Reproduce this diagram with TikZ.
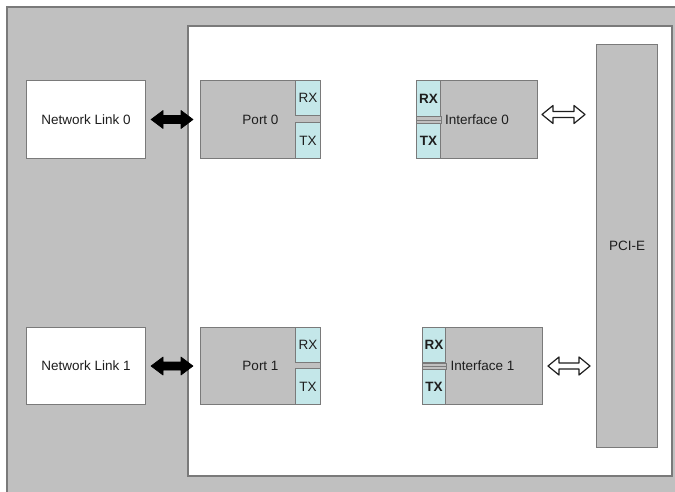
\documentclass[tikz,border=0pt]{standalone}
\usepackage{fontspec}
\setmainfont{Liberation Sans}
\usetikzlibrary{calc}
\definecolor{boxgray}{HTML}{C0C0C0}
\definecolor{edgegray}{HTML}{7A7A7A}
\definecolor{rxcyan}{HTML}{C4E7E9}
\definecolor{txtc}{HTML}{1E1E1E}
\newcommand{\dblarrow}[6]{%
  \draw[#1] let \p1=#2, \p2=#3 in
    (\x1,\y1) -- (\x1+#6,\y1+#5) -- (\x1+#6,\y1+#4) -- (\x2-#6,\y1+#4)
    -- (\x2-#6,\y1+#5) -- (\x2,\y1) -- (\x2-#6,\y1-#5) -- (\x2-#6,\y1-#4)
    -- (\x1+#6,\y1-#4) -- (\x1+#6,\y1-#5) -- cycle;}
\tikzset{
  plainbox/.style={draw=edgegray, line width=1pt, fill=white, anchor=north west, inner sep=0pt, text=txtc},
  graybox/.style={draw=edgegray, line width=1pt, fill=boxgray, inner sep=0pt, text=txtc},
  cyanbox/.style={draw=edgegray, line width=0.8pt, fill=rxcyan, inner sep=0pt, text=txtc},
  boldtext/.style={font=\fontsize{13.5pt}{16pt}\selectfont\bfseries},
  blackarrow/.style={fill=black, draw=black, line width=0.6pt, line join=round},
  hollowarrow/.style={fill=white, draw=txtc, line width=1.2pt, line join=round}
}
\begin{document}
\begin{tikzpicture}[x=1pt,y=-1pt, font=\fontsize{13.5pt}{16pt}\selectfont]
\useasboundingbox (0,0) rectangle (675,492);
% background frame
\fill[white] (0,0) rectangle (675,492);
\fill[boxgray] (7,7) rectangle (685,500);
\draw[edgegray, line width=1.5pt] (7,500) -- (7,7) -- (685,7);
\draw[edgegray, fill=white, line width=1.2pt] (188,26) rectangle (672,476);

% network links
\node[plainbox, minimum width=119pt, minimum height=78pt] (nl0) at (26,80) {Network Link 0};
\node[plainbox, minimum width=119pt, minimum height=77pt] (nl1) at (26,327) {Network Link 1};

% ports
\node[graybox, anchor=north west, minimum width=120pt, minimum height=78pt] (p0) at (200,80) {Port 0};
\node[cyanbox, anchor=north east, minimum width=25pt, minimum height=35pt] (p0rx) at (p0.north east) {RX};
\node[cyanbox, anchor=south east, minimum width=25pt, minimum height=36pt] (p0tx) at (p0.south east) {TX};

\node[graybox, anchor=north west, minimum width=120pt, minimum height=77pt] (p1) at (200,327) {Port 1};
\node[cyanbox, anchor=north east, minimum width=25pt, minimum height=35pt] (p1rx) at (p1.north east) {RX};
\node[cyanbox, anchor=south east, minimum width=25pt, minimum height=36pt] (p1tx) at (p1.south east) {TX};

% interfaces
\node[graybox, anchor=north west, minimum width=121pt, minimum height=78pt] (i0) at (416,80) {Interface 0};
\node[cyanbox, boldtext, anchor=north west, minimum width=24pt, minimum height=36pt] (i0rx) at (i0.north west) {RX};
\node[cyanbox, boldtext, anchor=south west, minimum width=24pt, minimum height=35pt] (i0tx) at (i0.south west) {TX};
\draw[edgegray, fill=boxgray, line width=0.6pt] (i0rx.south west) rectangle (i0tx.north east);
\draw[edgegray, line width=0.6pt] ($(i0rx.south west)!0.5!(i0tx.north west)$) -- ($(i0rx.south east)!0.5!(i0tx.north east)$);

\node[graybox, anchor=north west, minimum width=120pt, minimum height=77pt] (i1) at (422,327) {Interface 1};
\node[cyanbox, boldtext, anchor=north west, minimum width=23pt, minimum height=35pt] (i1rx) at (i1.north west) {RX};
\node[cyanbox, boldtext, anchor=south west, minimum width=23pt, minimum height=35pt] (i1tx) at (i1.south west) {TX};
\draw[edgegray, fill=boxgray, line width=0.6pt] (i1rx.south west) rectangle (i1tx.north east);
\draw[edgegray, line width=0.6pt] ($(i1rx.south west)!0.5!(i1tx.north west)$) -- ($(i1rx.south east)!0.5!(i1tx.north east)$);

% PCI-E
\node[graybox, anchor=north west, minimum width=61pt, minimum height=403pt] (pci) at (596,44) {PCI-E};

% arrows
\dblarrow{blackarrow}{($(nl0.east)+(5pt,0)$)}{($(p0.west)+(-7pt,0)$)}{4pt}{9pt}{12pt}
\dblarrow{blackarrow}{($(nl1.east)+(5pt,0)$)}{($(p1.west)+(-7pt,0)$)}{4pt}{9pt}{12pt}
\dblarrow{hollowarrow}{($(i0.east)+(4pt,5pt)$)}{($(pci.west)+(-11pt,0)$)}{3pt}{9pt}{11pt}
\dblarrow{hollowarrow}{($(i1.east)+(5pt,0)$)}{($(pci.west)+(-6pt,0)$)}{3pt}{9pt}{11pt}
\end{tikzpicture}
\end{document}
